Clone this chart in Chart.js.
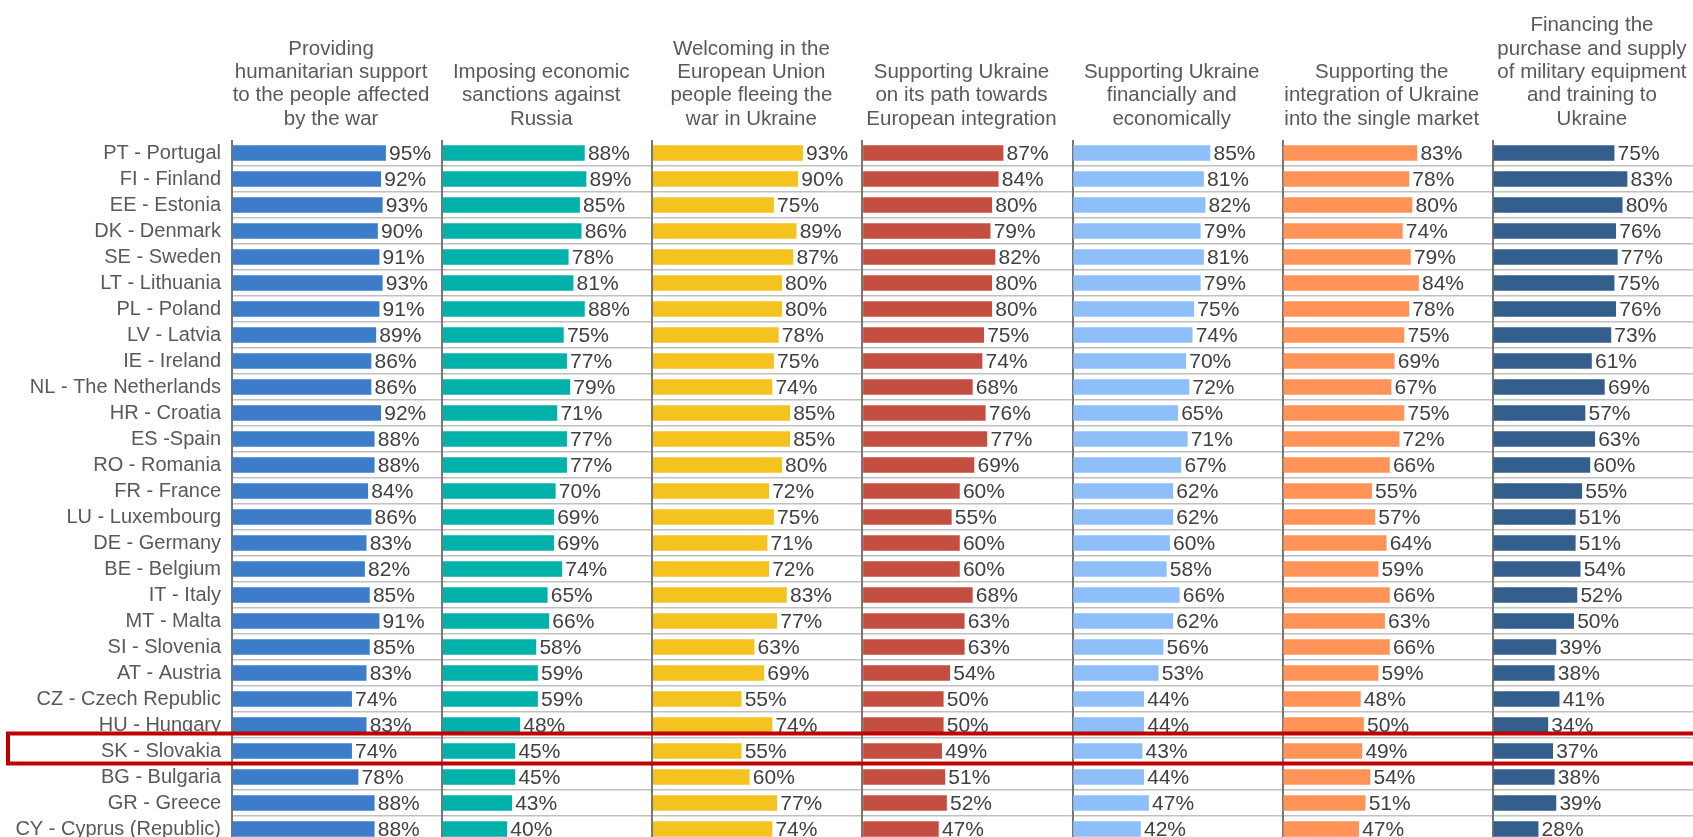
<!DOCTYPE html>
<html>
<head>
<meta charset="utf-8">
<script src="https://cdn.jsdelivr.net/npm/chart.js@4.4.1/dist/chart.umd.min.js"></script>
<style>
  html, body { margin: 0; padding: 0; background: #ffffff; overflow: hidden; width: 1693px; height: 837px; }
  #wrap { position: absolute; left: 0; top: 0; width: 1703px; height: 842px; }
  canvas { display: block; }
</style>
</head>
<body>
<div id="wrap"><canvas id="c" width="1703" height="842"></canvas></div>
<script>
const categories = [
  'PT - Portugal', 'FI - Finland', 'EE - Estonia', 'DK - Denmark', 'SE - Sweden',
  'LT - Lithuania', 'PL - Poland', 'LV - Latvia', 'IE - Ireland', 'NL - The Netherlands',
  'HR - Croatia', 'ES -Spain', 'RO - Romania', 'FR - France', 'LU - Luxembourg',
  'DE - Germany', 'BE - Belgium', 'IT - Italy', 'MT - Malta', 'SI - Slovenia',
  'AT - Austria', 'CZ - Czech Republic', 'HU - Hungary', 'SK - Slovakia', 'BG - Bulgaria',
  'GR - Greece', 'CY - Cyprus (Republic)'
];

const highlightCategory = 'SK - Slovakia';

const titles = [
  ['Providing', 'humanitarian support', 'to the people affected', 'by the war'],
  ['Imposing economic', 'sanctions against', 'Russia'],
  ['Welcoming in the', 'European Union', 'people fleeing the', 'war in Ukraine'],
  ['Supporting Ukraine', 'on its path towards', 'European integration'],
  ['Supporting Ukraine', 'financially and', 'economically'],
  ['Supporting the', 'integration of Ukraine', 'into the single market'],
  ['Financing the', 'purchase and supply', 'of military equipment', 'and training to', 'Ukraine']
];

const humanitarian = [95, 92, 93, 90, 91, 93, 91, 89, 86, 86, 92, 88, 88, 84, 86, 83, 82, 85, 91, 85, 83, 74, 83, 74, 78, 88, 88];
const sanctions    = [88, 89, 85, 86, 78, 81, 88, 75, 77, 79, 71, 77, 77, 70, 69, 69, 74, 65, 66, 58, 59, 59, 48, 45, 45, 43, 40];
const welcoming    = [93, 90, 75, 89, 87, 80, 80, 78, 75, 74, 85, 85, 80, 72, 75, 71, 72, 83, 77, 63, 69, 55, 74, 55, 60, 77, 74];
const integration  = [87, 84, 80, 79, 82, 80, 80, 75, 74, 68, 76, 77, 69, 60, 55, 60, 60, 68, 63, 63, 54, 50, 50, 49, 51, 52, 47];
const financially  = [85, 81, 82, 79, 81, 79, 75, 74, 70, 72, 65, 71, 67, 62, 62, 60, 58, 66, 62, 56, 53, 44, 44, 43, 44, 47, 42];
const singleMarket = [83, 78, 80, 74, 79, 84, 78, 75, 69, 67, 75, 72, 66, 55, 57, 64, 59, 66, 63, 66, 59, 48, 50, 49, 54, 51, 47];
const military     = [75, 83, 80, 76, 77, 75, 76, 73, 61, 69, 57, 63, 60, 55, 51, 51, 54, 52, 50, 39, 38, 41, 34, 37, 38, 39, 28];

const seriesValues = [humanitarian, sanctions, welcoming, integration, financially, singleMarket, military];
const seriesColors = ['#3D7CC9', '#00B2A9', '#F4C31F', '#C44F41', '#8EBFF9', '#FF9358', '#345E8B'];

const FONT = "'Liberation Sans', Arial, Helvetica, sans-serif";
Chart.defaults.font.family = FONT;

const datasets = seriesValues.map((vals, i) => ({
  label: titles[i].join(' '),
  data: vals,
  xAxisID: 'x' + i,
  backgroundColor: seriesColors[i],
  borderWidth: 0,
  grouped: false,
  barThickness: 15
}));

const scales = {
  y: {
    type: 'category',
    labels: categories,
    offset: true,
    border: { display: false },
    grid: {
      offset: true,
      drawTicks: false,
      lineWidth: 1.5,
      color: (ctx) => (ctx.index === 0 ? 'rgba(0,0,0,0)' : '#c0c0c0')
    },
    ticks: {
      autoSkip: false,
      padding: 11,
      color: '#595959',
      font: { size: 20, family: FONT }
    },
    afterFit: (s) => { s.width = 232; s.paddingTop = 0; s.paddingBottom = 0; }
  }
};

// top axes are laid out in reverse insertion order, so insert them last-first
for (let i = titles.length - 1; i >= 0; i--) {
  scales['x' + i] = {
    type: 'linear',
    position: 'top',
    stack: 'columns',
    stackWeight: 1,
    min: 0,
    max: 130,
    border: { display: false },
    grid: {
      drawTicks: false,
      lineWidth: 2,
      color: (ctx) => (ctx.tick && ctx.tick.value === 0 ? '#767676' : 'rgba(0,0,0,0)')
    },
    ticks: { display: false, stepSize: 10 },
    title: { display: false },
    afterFit: (s) => { s.height = 140; s.paddingLeft = 0; s.paddingRight = 0; }
  };
}

const columnTitles = {
  id: 'columnTitles',
  afterDraw(chart) {
    const ctx = chart.ctx;
    const lineH = 23.3;
    const lastLineY = 119;
    ctx.save();
    ctx.font = '20.5px ' + FONT;
    ctx.fillStyle = '#595959';
    ctx.textAlign = 'center';
    ctx.textBaseline = 'middle';
    titles.forEach((lines, i) => {
      const s = chart.scales['x' + i];
      const cx = (s.left + s.right) / 2 - 6;
      const n = lines.length;
      lines.forEach((line, k) => {
        ctx.fillText(line, cx, lastLineY - (n - 1 - k) * lineH);
      });
    });
    ctx.restore();
  }
};

const valueLabels = {
  id: 'valueLabels',
  afterDatasetsDraw(chart) {
    const ctx = chart.ctx;
    ctx.save();
    ctx.font = '21px ' + FONT;
    ctx.fillStyle = '#404040';
    ctx.textAlign = 'left';
    ctx.textBaseline = 'middle';
    chart.data.datasets.forEach((ds, i) => {
      const meta = chart.getDatasetMeta(i);
      meta.data.forEach((bar, j) => {
        ctx.fillText(ds.data[j] + '%', bar.x + 3.5, bar.y + 1);
      });
    });
    ctx.restore();
  }
};

const highlightBox = {
  id: 'highlightBox',
  afterDraw(chart) {
    const idx = categories.indexOf(highlightCategory);
    if (idx < 0) return;
    const y = chart.scales.y.getPixelForValue(idx);
    const ctx = chart.ctx;
    ctx.save();
    ctx.strokeStyle = '#C00000';
    ctx.lineWidth = 4;
    ctx.strokeRect(8, y - 17.5, chart.width + 40, 30);
    ctx.restore();
  }
};

new Chart(document.getElementById('c'), {
  type: 'bar',
  data: { labels: categories, datasets },
  options: {
    indexAxis: 'y',
    responsive: false,
    animation: false,
    maintainAspectRatio: false,
    layout: { padding: 0 },
    plugins: {
      legend: { display: false },
      tooltip: { enabled: false },
      title: { display: false }
    },
    scales
  },
  plugins: [valueLabels, columnTitles, highlightBox]
});
</script>
</body>
</html>
